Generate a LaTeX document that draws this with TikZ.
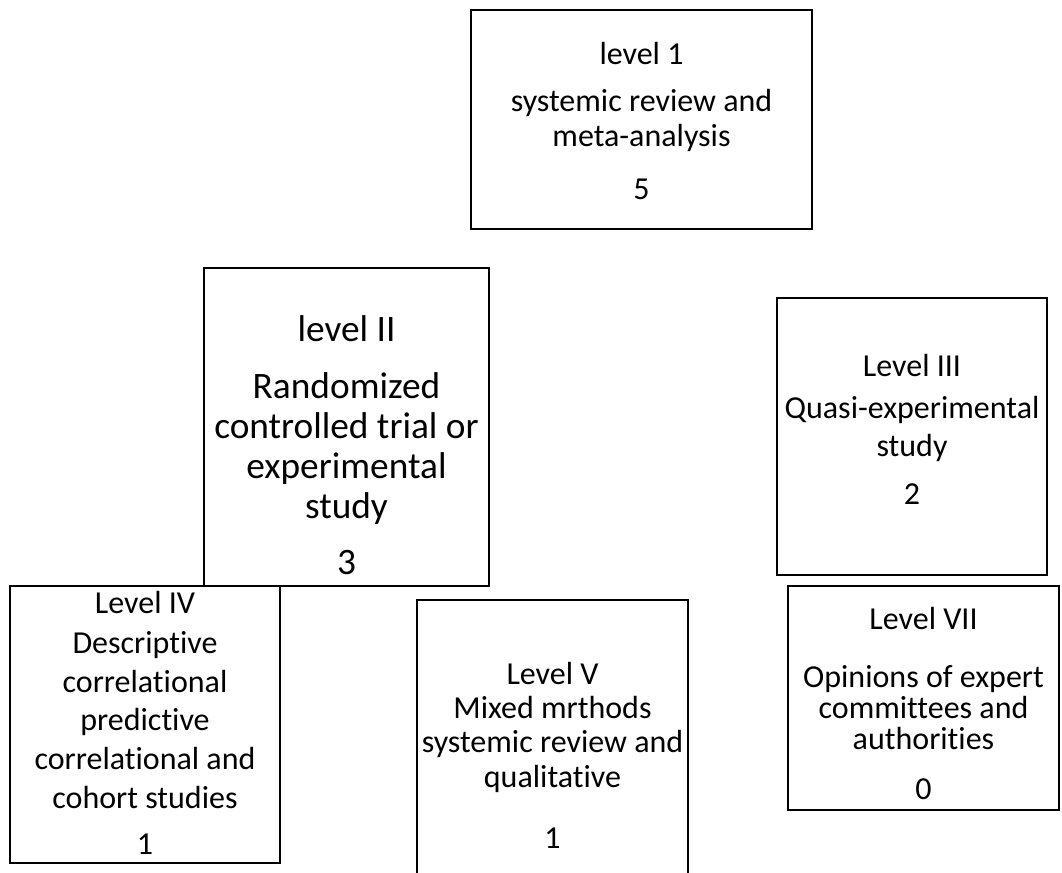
\documentclass[tikz,border=0pt]{standalone}
\usepackage{fontspec}
\setmainfont{Carlito}[Ligatures=NoCommon]

\begin{document}
\begin{tikzpicture}[
    x=0.75pt, y=-0.75pt,
    box/.style={rectangle, draw=black, line width=1.3pt, fill=white, inner sep=0pt, align=center},
    txt/.style 2 args={font=\fontsize{#1}{#2}\selectfont}
]
\clip (0,0) rectangle (1062,873);

% top of the hierarchy
\node[box, txt={24}{26.25pt}, minimum width=255.75pt, minimum height=164.25pt] (lvone) at (641.5,119.5)
  {\rule{0pt}{19.5pt}level 1\\[8.75pt] systemic review and\\ meta-analysis\\[13.75pt] 5};

% second row
\node[box, txt={28}{30pt}, minimum width=213.75pt, minimum height=238.5pt] (lvtwo) at (346.5,427)
  {\rule{0pt}{47pt}level II\\[12.5pt] Randomized\\ controlled trial or\\ experimental\\ study\\[12.5pt] 3};
\node[box, txt={24}{29pt}, minimum width=202.5pt, minimum height=207.75pt] (lvthree) at (912,436.5)
  {\rule{0pt}{18pt}Level III\\[2pt] Quasi-experimental\\ study\\[7.2pt] 2\rule[-11.5pt]{0pt}{11.5pt}};

% bottom row
\node[box, txt={24}{29pt}, minimum width=202.5pt, minimum height=207.75pt] (lvfour) at (145,724.5)
  {\rule{0pt}{18pt}Level IV\\[1pt] Descriptive\\ correlational\\ predictive\\ correlational and\\ cohort studies\\[6pt] 1\rule[-3.5pt]{0pt}{3.5pt}};
\node[box, txt={24}{25.6pt}, minimum width=203.25pt, minimum height=232pt] (lvfive) at (552.5,754.65)
  {\rule{0pt}{18pt}Level V\\ Mixed mrthods\\ systemic review and\\ qualitative\\[20.6pt] 1};
\node[box, txt={24}{23.1pt}, minimum width=203.25pt, minimum height=168pt] (lvseven) at (923.5,698)
  {\rule{0pt}{25pt}Level VII\\[20.6pt] Opinions of expert\\ committees and\\ authorities\\[14.4pt] 0};

\end{tikzpicture}
\end{document}
